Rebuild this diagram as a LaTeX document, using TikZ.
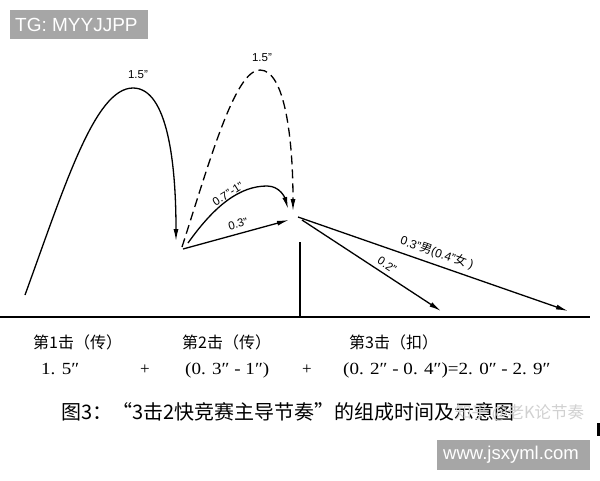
\documentclass[tikz,border=0pt]{standalone}
\usepackage{fontspec}
\setmainfont{Liberation Sans}
\newfontfamily\cjk{Noto Sans CJK SC}
\newfontfamily\numserif{Liberation Serif}
\usetikzlibrary{arrows.meta}
\begin{document}
\begin{tikzpicture}[x=1pt,y=-1pt,
  curve/.style={line width=1.3pt,-{Latex[length=12pt,width=5pt]}},
  dashcurve/.style={curve,dash pattern=on 9pt off 5pt},
  lbl/.style={font=\fontsize{11.5}{13}\selectfont,inner sep=0pt},
  rowtxt/.style={anchor=base west,inner sep=0pt,font=\cjk\fontsize{16}{18}\selectfont},
  numtxt/.style={anchor=base west,inner sep=0pt,font=\numserif\fontsize{17}{19}\selectfont},
  graybox/.style={fill=black!35,draw=none},
  boxtxt/.style={text=white,font=\fontsize{19}{22}\selectfont,inner sep=0pt}]
\useasboundingbox (0,0) rectangle (600,480);
\fill[white] (0,0) rectangle (600,480);
% watermark boxes
\fill[graybox] (10,10) rectangle (148,39);
\node[boxtxt,anchor=west] (tg) at (15,25) {TG: MYYJJPP};
\fill[graybox] (437,440) rectangle (590,470);
\node[boxtxt,anchor=west,font=\fontsize{18.5}{22}\selectfont] (www) at (443,455) {www.jsxyml.com};
\fill[black] (597,423) rectangle (600,436);
% key points
\coordinate (s1) at (25,295);
\coordinate (p1) at (133,88);
\coordinate (e1) at (176,241);
\coordinate (s2) at (182,247);
\coordinate (p2) at (260,70);
\coordinate (e2) at (293,211);
\coordinate (s3) at (188,243);
\coordinate (p3) at (267,186);
\coordinate (e3) at (288,209);
\coordinate (s4) at (183,249);
\coordinate (e4) at (289,220);
\coordinate (s5) at (302,220);
\coordinate (e5) at (441,311);
\coordinate (s6) at (298,217);
\coordinate (e6) at (568,311);
\coordinate (vt) at (300,242);
\coordinate (vb) at (300,317);
\coordinate (bl) at (0,317);
\coordinate (br) at (590,317);
% baseline and post
\draw[line width=1.4pt] (bl) -- (br);
\draw[line width=1.3pt] (vt) -- (vb);
% curves
\draw[curve] (s1) .. controls (65,185) and (95,88) .. (p1) .. controls (168,88) and (176,165) .. (e1);
\draw[dashcurve] (s2) .. controls (210,160) and (235,70) .. (p2) .. controls (285,70) and (293,140) .. (e2);
\draw[curve] (s3) .. controls (215,205) and (240,186) .. (p3) .. controls (280,186) and (285,198) .. (e3);
\draw[curve] (s4) -- (e4);
\draw[curve] (s5) -- (e5);
\draw[curve] (s6) -- (e6);
% labels
\node[lbl] (l1) at (138,75) {1.5"};
\node[lbl] (l2) at (262,58) {1.5"};
\node[lbl,rotate=32] (l3) at (228,194) {0.7"-1"};
\node[lbl,rotate=15.4] (l4) at (238,224) {0.3"};
\node[lbl,rotate=-33.4] (l5) at (387,265) {0.2"};
\node[lbl,rotate=-19.3,font=\fontsize{12}{14}\selectfont] (l6) at (437,253) {0.3"{\cjk 男}(0.4"{\cjk 女} )};
% rows
\node[rowtxt] (r1) at (33,348) {第1击（传）};
\node[rowtxt] (r2) at (182,348) {第2击（传）};
\node[rowtxt] (r3) at (349,348) {第3击（扣）};
\node[numtxt] (n1) at (41,374) {\scalebox{1.12}[1]{1. 5″}};
\node[numtxt,anchor=base] (plus1) at (145,374) {+};
\node[numtxt] (n2) at (185,374) {\scalebox{1.12}[1]{(0. 3″ - 1″)}};
\node[numtxt,anchor=base] (plus2) at (307,374) {+};
\node[numtxt] (n3) at (343,374) {\scalebox{1.12}[1]{(0. 2″ - 0. 4″)=2. 0″ - 2. 9″}};
% caption
\node[anchor=base west,inner sep=0pt,font=\cjk\fontsize{20}{23}\selectfont] (cap) at (61,419) {图3：“3击2快竞赛主导节奏”的组成时间及示意图};
\node[anchor=base west,inner sep=0pt,text=black!18,font=\cjk\fontsize{16.5}{20}\selectfont] (wm) at (455,418) {知乎 @老K论节奏};
\end{tikzpicture}
\end{document}
